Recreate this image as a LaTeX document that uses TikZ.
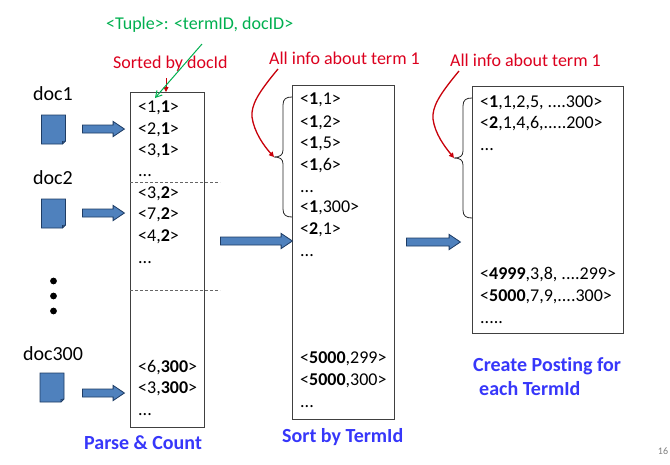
\documentclass[tikz,border=0pt]{standalone}
\usepackage{fontspec}
\setmainfont[Ligatures=NoCommon]{Carlito}
\usetikzlibrary{shapes.arrows,arrows.meta}
\definecolor{docblue}{RGB}{79,129,189}
\definecolor{docedge}{RGB}{30,60,100}
\definecolor{tred}{RGB}{220,0,30}
\definecolor{cred}{RGB}{200,0,10}
\definecolor{tgreen}{RGB}{0,176,80}
\definecolor{tblue}{RGB}{55,55,250}
\tikzset{
  colbox/.style={draw=black!75,line width=0.9pt,fill=white,inner sep=0pt,anchor=north west},
  row/.style={anchor=base west,inner sep=0pt,font=\fontsize{18}{20}\selectfont},
  lab/.style={inner sep=0pt,font=\fontsize{20}{22}\selectfont},
  ann/.style={inner sep=0pt,font=\fontsize{18}{20}\selectfont},
  ttl/.style={inner sep=0pt,text=tblue,font=\fontsize{20}{22}\selectfont\bfseries},
  blockarrow/.style={single arrow,draw=docedge,line width=0.8pt,fill=docblue,anchor=tail,
    inner xsep=0pt,inner ysep=3.6pt,single arrow tip angle=68,single arrow head extend=3.6pt,
    single arrow head indent=0pt,minimum width=14pt},
  docshape/.style={draw=docedge,line width=0.8pt,fill=docblue},
  dashline/.style={draw=black!60,line width=0.9pt,dash pattern=on 3pt off 2pt},
  curlybrace/.style={draw=black!85,line width=0.8pt},
  redcurve/.style={draw=cred,line width=1.3pt,-{Triangle[length=5pt,width=5pt]}},
}
\newcommand{\docicon}[2]{%
  \path[docshape] (#1,#2) -- ++(24,0) -- ++(0,26) -- ++(-3,3) -- ++(-21,0) -- cycle;
  \path[draw=docedge,line width=0.6pt] (#1+24,#2+26) -- ++(-3,0.5) -- ++(0,2.5);}
\newcommand{\bracepath}[6]{% xright xleft xtip top mid bottom
  \path[curlybrace] (#1,#4) .. controls (#2+3,#4) and (#2,#4+2) .. (#2,#4+8)
    -- (#2,#5-7) .. controls (#2,#5-2) and (#2-3,#5) .. (#3,#5)
    .. controls (#2-3,#5) and (#2,#5+2) .. (#2,#5+7)
    -- (#2,#6-8) .. controls (#2,#6-2) and (#2+3,#6) .. (#1,#6);}
\begin{document}
\begin{tikzpicture}[x=1pt,y=-1pt]
\useasboundingbox (0,0) rectangle (670,464);
\fill[white] (0,0) rectangle (670,464);
% columns
\node[colbox,minimum width=74pt,minimum height=335pt] (b1) at (130,92) {};
\node[colbox,minimum width=102pt,minimum height=334pt] (b2) at (292,85) {};
\node[colbox,minimum width=151pt,minimum height=247pt] (b3) at (472,86) {};
% dashed
\coordinate (d1r) at (220,182); \coordinate (d2r) at (220,290);
\draw[dashline] (b1.west |- d1r) -- (d1r);
\draw[dashline] (b1.west |- d2r) -- (d2r);
% column 1
\node[row] at (138,112) {<1,\textbf{1}>};
\node[row] at (138,134) {<2,\textbf{1}>};
\node[row] at (138,155) {<3,\textbf{1}>};
\node[row] at (138,176) {...};
\node[row] at (138,198) {<3,\textbf{2}>};
\node[row] at (138,219) {<7,\textbf{2}>};
\node[row] at (138,241) {<4,\textbf{2}>};
\node[row] at (138,263) {...};
\node[row] at (138,372) {<6,\textbf{300}>};
\node[row] at (138,393) {<3,\textbf{300}>};
\node[row] at (138,415) {...};
% column 2
\node[row] at (300,104) {<\textbf{1},1>};
\node[row] at (300,127) {<\textbf{1},2>};
\node[row] at (300,148) {<\textbf{1},5>};
\node[row] at (300,170) {<\textbf{1},6>};
\node[row] at (300,192) {...};
\node[row] at (300,212) {<\textbf{1},300>};
\node[row] at (300,234) {<\textbf{2},1>};
\node[row] at (300,256) {...};
\node[row] at (300,363) {<\textbf{5000},299>};
\node[row] at (300,385) {<\textbf{5000},300>};
\node[row] at (300,407) {...};
% column 3
\node[row] at (480,107) {<\textbf{1},1,2,5, ....300>};
\node[row] at (480,128) {<\textbf{2},1,4,6,.....200>};
\node[row] at (480,150) {...};
\node[row] at (480,279) {<\textbf{4999},3,8, ....299>};
\node[row] at (480,301) {<\textbf{5000},7,9,....300>};
\node[row] at (480,323) {.....};
% docs
\node[lab] (doc1) at (53,94) {doc1};
\node[lab] (doc2) at (53,178) {doc2};
\node[lab] (doc300) at (53,354) {doc300};
\docicon{41.5}{115}
\docicon{41.5}{199}
\docicon{40}{373}
\foreach \yy/\nm in {281/p1,296/p2,311/p3}{\fill (53.5,\yy) circle (3.4pt);}
% block arrows
\node[blockarrow,minimum height=42pt] (a1) at (82,129) {};
\node[blockarrow,minimum height=42pt] (a2) at (82,213) {};
\node[blockarrow,minimum height=42pt] (a3) at (82,393) {};
\node[blockarrow,minimum height=72pt] (a4) at (220,241) {};
\node[blockarrow,minimum height=54pt] (a5) at (406,242) {};
% braces
\bracepath{292}{283}{274}{97}{157}{217}
\bracepath{472}{463}{454}{98}{158}{218}
% annotations
\node[ann,text=tgreen,anchor=west] (tup) at (106,25) {<Tuple>: <termID, docID>};
\node[ann,text=tred,anchor=west] (sorted) at (113,64) {Sorted by docId};
\node[ann,text=tred,anchor=west] (all1) at (269,58) {All info about term 1};
\node[ann,text=tred,anchor=west] (all2) at (450,60) {All info about term 1};
\coordinate (s1) at (166,78); \coordinate (e1) at (166,92);
\draw[draw=cred,line width=1pt,-{Triangle[length=5pt,width=5pt]}] (s1) -- (e1);
\coordinate (g1) at (202,44); \coordinate (g2) at (155,98);
\draw[draw=tgreen,line width=1pt,-{Straight Barb[length=6pt,width=7pt]}] (g1) -- (g2);
\coordinate (r1) at (278,69); \coordinate (t1) at (274,157);
\draw[redcurve] (r1) .. controls (258,93) and (251,105) .. (252,117) .. controls (254,132) and (264,146) .. (t1);
\coordinate (r2) at (459,71); \coordinate (t2) at (454,158);
\draw[redcurve] (r2) .. controls (439,95) and (432,107) .. (433,119) .. controls (435,134) and (445,147) .. (t2);
% titles
\node[ttl,anchor=west] at (84,443) {Parse \& Count};
\node[ttl,anchor=west] at (282,437) {Sort by TermId};
\node[ttl,anchor=west] at (473,366) {Create Posting for};
\node[ttl,anchor=west] at (479,389) {each TermId};
\node[inner sep=0pt,text=black!50,font=\fontsize{10}{12}\selectfont] at (663,451) {16};
\end{tikzpicture}
\end{document}
